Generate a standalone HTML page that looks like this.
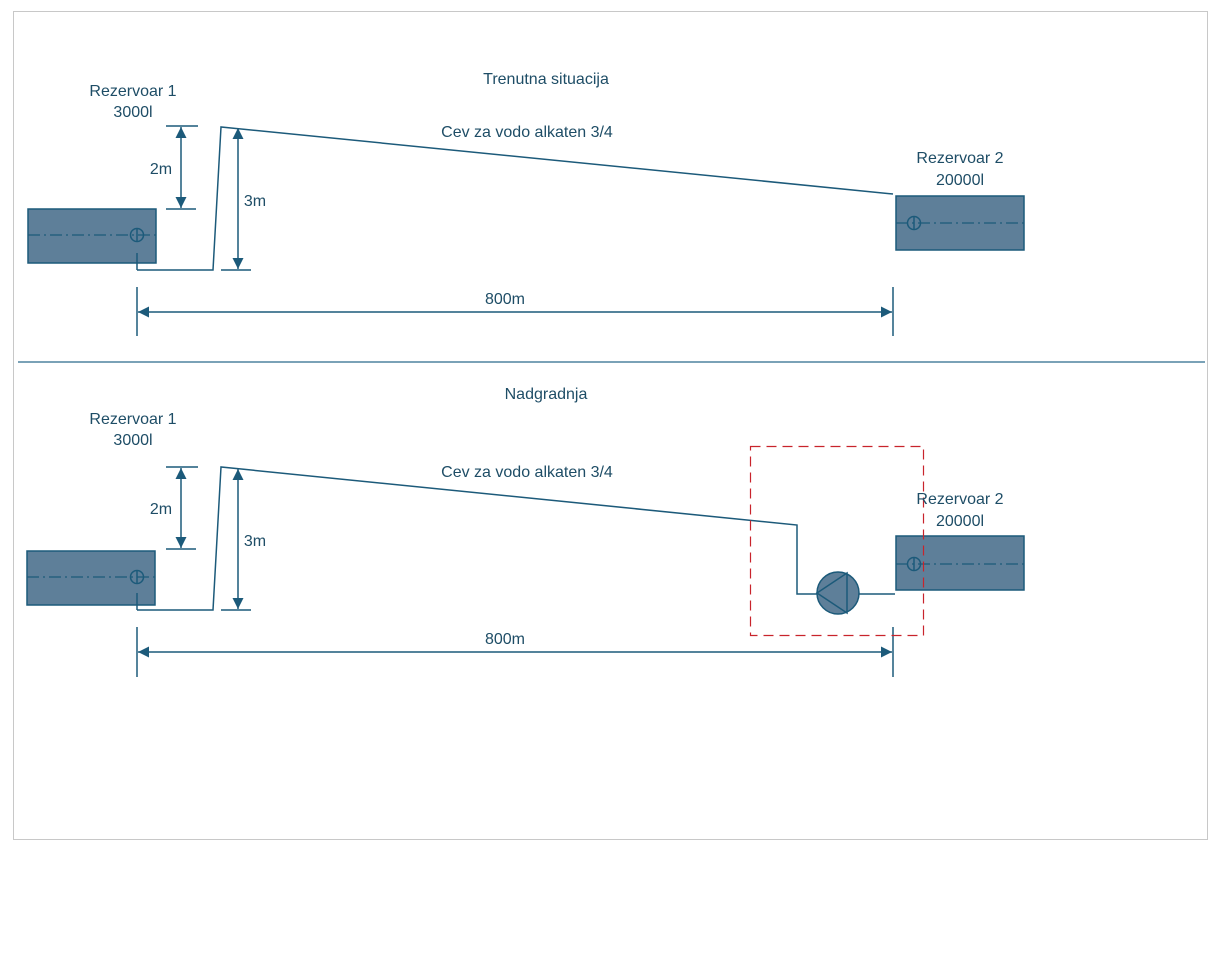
<!DOCTYPE html>
<html><head><meta charset="utf-8"><style>
html,body{margin:0;padding:0;background:#fff;}
svg{display:block}
text{font-family:"Liberation Sans",sans-serif;font-size:16px;fill:#1e4d66;}
</style></head><body>
<svg width="1221" height="958" viewBox="0 0 1221 958" xmlns="http://www.w3.org/2000/svg">
<defs>
<marker id="ah" viewBox="0 0 10 10" refX="10" refY="5" markerWidth="18" markerHeight="11" markerUnits="userSpaceOnUse" orient="auto-start-reverse">
<path d="M0,0 L10,5 L0,10 z" fill="#1c5a7a"/>
</marker>
</defs>
<rect x="13.5" y="11.5" width="1194" height="828" fill="none" stroke="#c8c8c8"/>
<line x1="18" y1="362" x2="1205" y2="362" stroke="#2a6a8c" stroke-width="1.3"/>

<text x="546" y="84" text-anchor="middle">Trenutna situacija</text>
<text x="546" y="399" text-anchor="middle">Nadgradnja</text>

<g id="top" stroke="#1c5a7a" stroke-width="1.5" fill="none">
  <rect x="28" y="209" width="128" height="54" fill="#5e7f99"/>
  <line x1="28" y1="235" x2="156" y2="235" stroke-dasharray="12,4,2,4" stroke-width="1.2"/>
  <circle cx="137" cy="235" r="6.5"/>
  <line x1="137" y1="228" x2="137" y2="242"/>
  <line x1="137" y1="253" x2="137" y2="270"/>
  <polyline points="137,270 213,270 221,127 893,194"/>
  <line x1="166" y1="126" x2="198" y2="126"/>
  <line x1="166" y1="209" x2="196" y2="209"/>
  <line x1="181" y1="127" x2="181" y2="208" marker-start="url(#ah)" marker-end="url(#ah)"/>
  <line x1="221" y1="270" x2="251" y2="270"/>
  <line x1="238" y1="128" x2="238" y2="269" marker-start="url(#ah)" marker-end="url(#ah)"/>
  <line x1="137" y1="287" x2="137" y2="336"/>
  <line x1="893" y1="287" x2="893" y2="336"/>
  <line x1="138" y1="312" x2="892" y2="312" marker-start="url(#ah)" marker-end="url(#ah)"/>
  <rect x="896" y="196" width="128" height="54" fill="#5e7f99"/>
  <line x1="896" y1="223" x2="1024" y2="223" stroke-dasharray="12,4,2,4" stroke-width="1.2"/>
  <circle cx="914" cy="223" r="6.5"/>
  <line x1="914" y1="216" x2="914" y2="230"/>
</g>
<text x="133" y="96" text-anchor="middle">Rezervoar 1</text>
<text x="133" y="117" text-anchor="middle">3000l</text>
<text x="161" y="174" text-anchor="middle">2m</text>
<text x="255" y="206" text-anchor="middle">3m</text>
<text x="527" y="137" text-anchor="middle">Cev za vodo alkaten 3/4</text>
<text x="960" y="163" text-anchor="middle">Rezervoar 2</text>
<text x="960" y="185" text-anchor="middle">20000l</text>
<text x="505" y="304" text-anchor="middle">800m</text>

<g id="bot" stroke="#1c5a7a" stroke-width="1.5" fill="none">
  <rect x="27" y="551" width="128" height="54" fill="#5e7f99"/>
  <line x1="27" y1="577" x2="155" y2="577" stroke-dasharray="12,4,2,4" stroke-width="1.2"/>
  <circle cx="137" cy="577" r="6.5"/>
  <line x1="137" y1="570" x2="137" y2="584"/>
  <line x1="137" y1="593" x2="137" y2="610"/>
  <polyline points="137,610 213,610 221,467 797,525 797,594 817,594"/>
  <line x1="859" y1="594" x2="895" y2="594"/>
  <line x1="166" y1="467" x2="198" y2="467"/>
  <line x1="166" y1="549" x2="196" y2="549"/>
  <line x1="181" y1="468" x2="181" y2="548" marker-start="url(#ah)" marker-end="url(#ah)"/>
  <line x1="221" y1="610" x2="251" y2="610"/>
  <line x1="238" y1="469" x2="238" y2="609" marker-start="url(#ah)" marker-end="url(#ah)"/>
  <line x1="137" y1="627" x2="137" y2="677"/>
  <line x1="893" y1="627" x2="893" y2="677"/>
  <line x1="138" y1="652" x2="892" y2="652" marker-start="url(#ah)" marker-end="url(#ah)"/>
  <rect x="896" y="536" width="128" height="54" fill="#5e7f99"/>
  <line x1="896" y1="564" x2="1024" y2="564" stroke-dasharray="12,4,2,4" stroke-width="1.2"/>
  <circle cx="914" cy="564" r="6.5"/>
  <line x1="914" y1="557" x2="914" y2="571"/>
  <circle cx="838" cy="593" r="21" fill="#5e7f99"/>
  <polygon points="817,593 847,573 847,613"/>
</g>
<rect x="750.5" y="446.5" width="173" height="189" fill="none" stroke="#c8242c" stroke-width="1.2" stroke-dasharray="10,6"/>
<text x="133" y="424" text-anchor="middle">Rezervoar 1</text>
<text x="133" y="445" text-anchor="middle">3000l</text>
<text x="161" y="514" text-anchor="middle">2m</text>
<text x="255" y="546" text-anchor="middle">3m</text>
<text x="527" y="477" text-anchor="middle">Cev za vodo alkaten 3/4</text>
<text x="960" y="504" text-anchor="middle">Rezervoar 2</text>
<text x="960" y="526" text-anchor="middle">20000l</text>
<text x="505" y="644" text-anchor="middle">800m</text>
</svg>
</body></html>
